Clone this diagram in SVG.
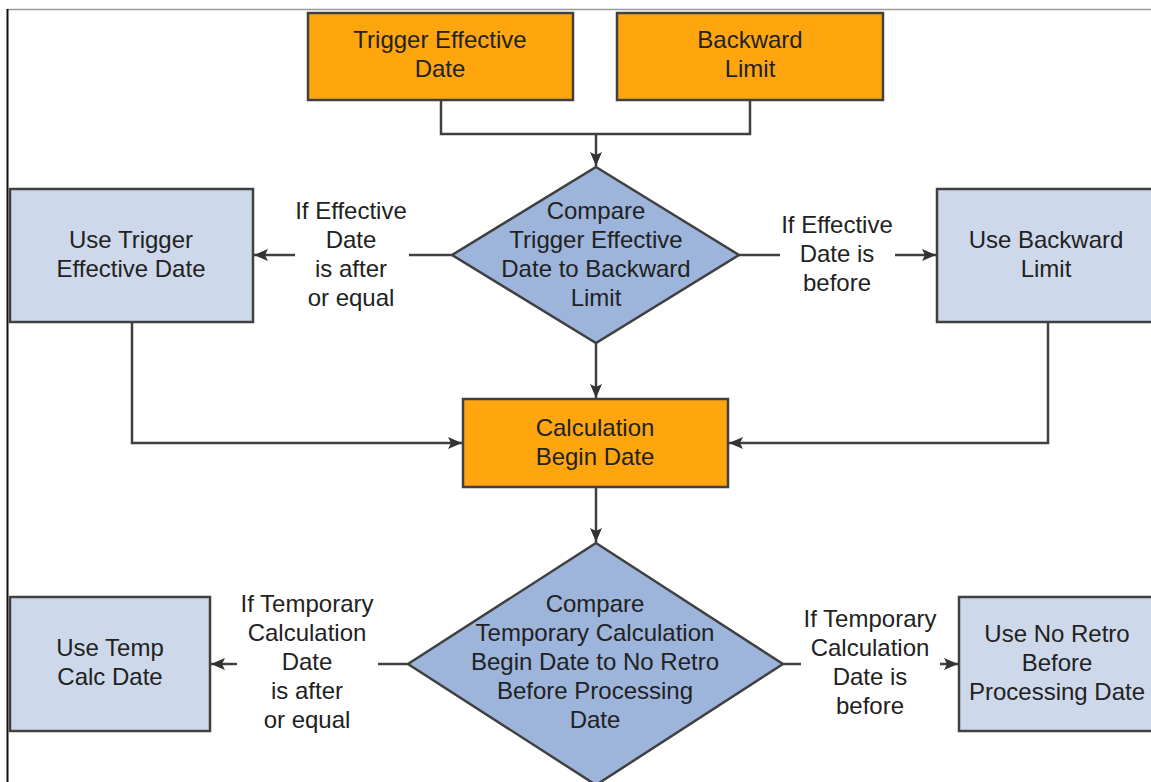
<svg xmlns="http://www.w3.org/2000/svg" width="1151" height="782" viewBox="0 0 1151 782">
<style>
.box{stroke:#404040;stroke-width:2.5}
.org{fill:#FFA60F}
.lb{fill:#CDD9EB}
.dia{fill:#9DB4DB;stroke:#404040;stroke-width:2.5}
.t{font-family:"Liberation Sans",Arial,sans-serif;font-size:24px;fill:#222;text-anchor:middle}
.c{fill:none;stroke:#404040;stroke-width:2.5}
</style>
<defs>
<marker id="ah" markerWidth="14" markerHeight="12" refX="14" refY="6" orient="auto" markerUnits="userSpaceOnUse">
<path d="M0,0 L14,6 L0,12 L3,6 Z" fill="#333"/>
</marker>
</defs>
<rect x="0" y="0" width="1151" height="782" fill="#fff"/>
<line x1="7" y1="9.5" x2="1151" y2="9.5" stroke="#999" stroke-width="1.5"/>
<line x1="7.5" y1="9" x2="7.5" y2="782" stroke="#111" stroke-width="2"/>

<g id="connectors">
<polyline class="c" points="441,100 441,134 750,134 750,100"/>
<line class="c" x1="596" y1="134" x2="596" y2="166" marker-end="url(#ah)"/>
<line class="c" x1="452" y1="255" x2="409" y2="255"/>
<line class="c" x1="295" y1="255" x2="254" y2="255" marker-end="url(#ah)"/>
<line class="c" x1="739" y1="255" x2="780" y2="255"/>
<line class="c" x1="895" y1="255" x2="936" y2="255" marker-end="url(#ah)"/>
<line class="c" x1="596" y1="343" x2="596" y2="398" marker-end="url(#ah)"/>
<polyline class="c" points="132,322 132,443 462,443" marker-end="url(#ah)"/>
<polyline class="c" points="1048,322 1048,443 729,443" marker-end="url(#ah)"/>
<line class="c" x1="596" y1="487" x2="596" y2="542" marker-end="url(#ah)"/>
<line class="c" x1="408" y1="664" x2="378" y2="664"/>
<line class="c" x1="237" y1="664" x2="211" y2="664" marker-end="url(#ah)"/>
<line class="c" x1="783" y1="664" x2="801" y2="664"/>
<line class="c" x1="940" y1="664" x2="958" y2="664" marker-end="url(#ah)"/>
<text class="t" x="351" y="219">If Effective</text>
<text class="t" x="351" y="248">Date</text>
<text class="t" x="351" y="277">is after</text>
<text class="t" x="351" y="306">or equal</text>
<text class="t" x="837" y="233">If Effective</text>
<text class="t" x="837" y="262">Date is</text>
<text class="t" x="837" y="291">before</text>
<text class="t" x="307" y="612">If Temporary</text>
<text class="t" x="307" y="641">Calculation</text>
<text class="t" x="307" y="670">Date</text>
<text class="t" x="307" y="699">is after</text>
<text class="t" x="307" y="728">or equal</text>
<text class="t" x="870" y="627">If Temporary</text>
<text class="t" x="870" y="656">Calculation</text>
<text class="t" x="870" y="685">Date is</text>
<text class="t" x="870" y="714">before</text>
</g>

<g id="trigger">
<rect class="box org" x="308" y="13" width="265" height="87"/>
<text class="t" x="440" y="48">Trigger Effective</text>
<text class="t" x="440" y="77">Date</text>
</g>
<g id="backward">
<rect class="box org" x="617" y="13" width="266" height="87"/>
<text class="t" x="750" y="48">Backward</text>
<text class="t" x="750" y="77">Limit</text>
</g>
<g id="compare1">
<polygon class="dia" points="596,167 739,255 596,343 452,255"/>
<text class="t" x="596" y="219">Compare</text>
<text class="t" x="596" y="248">Trigger Effective</text>
<text class="t" x="596" y="277">Date to Backward</text>
<text class="t" x="596" y="306">Limit</text>
</g>
<g id="useTrigger">
<rect class="box lb" x="10" y="189" width="243" height="133"/>
<text class="t" x="131" y="248">Use Trigger</text>
<text class="t" x="131" y="277">Effective Date</text>
</g>
<g id="useBackward">
<rect class="box lb" x="937" y="189" width="220" height="133"/>
<text class="t" x="1046" y="248">Use Backward</text>
<text class="t" x="1046" y="277">Limit</text>
</g>
<g id="calcBegin">
<rect class="box org" x="463" y="399" width="265" height="88"/>
<text class="t" x="595" y="436">Calculation</text>
<text class="t" x="595" y="465">Begin Date</text>
</g>
<g id="compare2">
<polygon class="dia" points="596,543 783,664 596,785 408,664"/>
<text class="t" x="595" y="612">Compare</text>
<text class="t" x="595" y="641">Temporary Calculation</text>
<text class="t" x="595" y="670">Begin Date to No Retro</text>
<text class="t" x="595" y="699">Before Processing</text>
<text class="t" x="595" y="728">Date</text>
</g>
<g id="useTemp">
<rect class="box lb" x="10" y="597" width="200" height="134"/>
<text class="t" x="110" y="656">Use Temp</text>
<text class="t" x="110" y="685">Calc Date</text>
</g>
<g id="useNoRetro">
<rect class="box lb" x="959" y="597" width="200" height="134"/>
<text class="t" x="1057" y="642">Use No Retro</text>
<text class="t" x="1057" y="671">Before</text>
<text class="t" x="1057" y="700">Processing Date</text>
</g>
</svg>
